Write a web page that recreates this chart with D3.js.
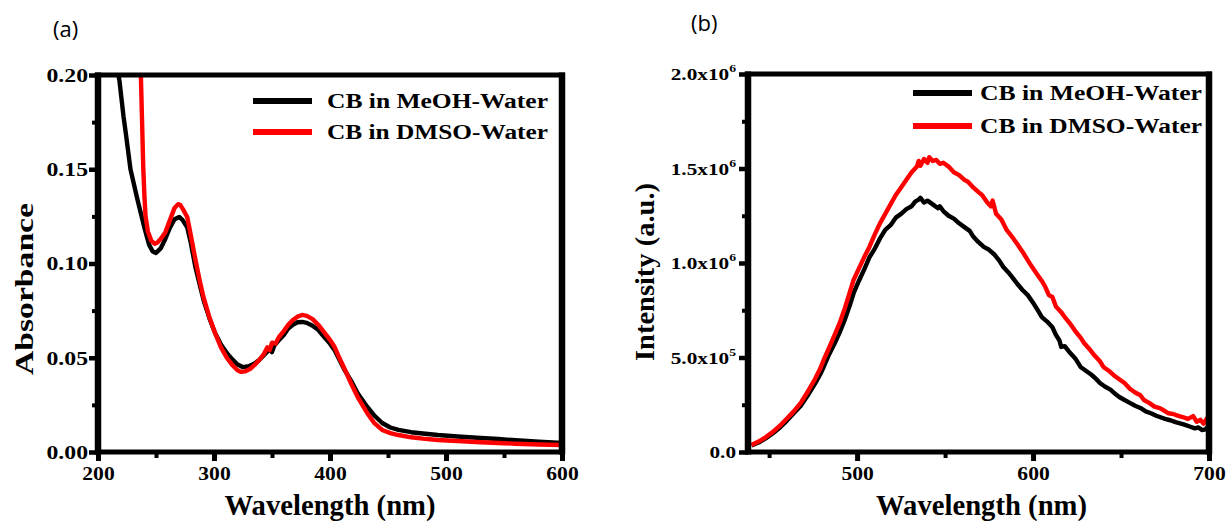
<!DOCTYPE html>
<html>
<head>
<meta charset="utf-8">
<script src="https://cdn.jsdelivr.net/npm/d3@7"></script>
<style>
  body { margin: 0; background: #fff; }
</style>
</head>
<body>
<div id="chart"></div>
<script>
// ---- panel (a): absorbance ----
let absWlMeOH = [212,216,218.5,222,224,228,234,240,244,247,250,254,258,262,266,270,273,277,280,284,288,291,296,301,306,311,316,320,325,330,335,339,344,348,350,352,356,360,364,368,372,376,380,385,390,395,400,404,408,413,418,424,432,438,445,452,459,470,480,493,510,530,545,560,580,600];
let absMeOH = [0.235,0.205,0.197,0.178,0.169,0.150,0.134,0.119,0.110,0.1065,0.1056,0.108,0.113,0.119,0.1235,0.1247,0.123,0.119,0.111,0.098,0.088,0.0806,0.071,0.063,0.057,0.0525,0.049,0.0465,0.045,0.0455,0.047,0.0488,0.052,0.0545,0.053,0.0565,0.0594,0.062,0.0655,0.0675,0.0688,0.069,0.0685,0.067,0.0647,0.061,0.0575,0.054,0.049,0.043,0.038,0.031,0.024,0.0195,0.0154,0.013,0.0117,0.0105,0.0098,0.009,0.0082,0.0074,0.0069,0.0062,0.0055,0.0048];

let absWlDMSO = [234,236,237,238,239,240,241,243,246,249,251,254,258,262,266,269,271,274,277,280,284,288,291,296,301,306,311,316,320,323,327,331,335,339,343,346,348,350,353,356,360,364,368,372,376,380,385,390,395,400,404,408,413,418,424,432,438,445,452,459,470,480,493,510,530,545,560,580,600];
let absDMSO = [0.24,0.205,0.199,0.175,0.151,0.136,0.125,0.117,0.112,0.1105,0.111,0.113,0.1165,0.123,0.1295,0.1315,0.131,0.128,0.1245,0.115,0.102,0.09,0.082,0.0715,0.063,0.0555,0.05,0.046,0.0435,0.0425,0.0428,0.044,0.0462,0.0488,0.052,0.0555,0.054,0.058,0.0575,0.061,0.064,0.0675,0.07,0.0718,0.0727,0.0722,0.0705,0.0674,0.0635,0.0595,0.0557,0.05,0.0435,0.0366,0.029,0.0207,0.0155,0.0117,0.01,0.009,0.0078,0.0071,0.0064,0.0058,0.0052,0.0048,0.0044,0.004,0.0037];

let absXTicks = [200,300,400,500,600];
let absXMinor = [250,350,450,550];
let absYTicks = [0,0.05,0.10,0.15,0.20];
let absYMinor = [0.025,0.075,0.125,0.175];

// ---- panel (b): emission ----
let emWlMeOH = [440,444,448,452,456,460,464,468,472,476,479,481,484,487,490,493,496,498,501,504,507,510,513,516,519,522,525,528,531,533,535,536,538,540,543,546,547,549,552,555,558,561,564,566,569,572,575,578,581,583,586,589,591,594,597,600,603,605,608,611,613,615,616,618,621,624,627,630,633,636,638,641,644,647,649,652,655,658,661,664,667,670,672,675,678,681,683,686,689,692,694,696,698,700];
let emMeOH = [0.035e6,0.05e6,0.072e6,0.098e6,0.128e6,0.165e6,0.205e6,0.245e6,0.3e6,0.36e6,0.41e6,0.45e6,0.515e6,0.57e6,0.63e6,0.7e6,0.78e6,0.84e6,0.905e6,0.965e6,1.03e6,1.075e6,1.13e6,1.175e6,1.2e6,1.24e6,1.26e6,1.285e6,1.3e6,1.325e6,1.335e6,1.345e6,1.32e6,1.33e6,1.31e6,1.29e6,1.3e6,1.275e6,1.25e6,1.235e6,1.21e6,1.19e6,1.17e6,1.14e6,1.11e6,1.085e6,1.07e6,1.045e6,1.01e6,0.98e6,0.95e6,0.915e6,0.89e6,0.857e6,0.83e6,0.79e6,0.745e6,0.714e6,0.69e6,0.66e6,0.62e6,0.59e6,0.556e6,0.56e6,0.525e6,0.495e6,0.45e6,0.43e6,0.41e6,0.385e6,0.365e6,0.345e6,0.33e6,0.305e6,0.291e6,0.275e6,0.26e6,0.245e6,0.233e6,0.215e6,0.205e6,0.192e6,0.185e6,0.175e6,0.168e6,0.158e6,0.153e6,0.145e6,0.135e6,0.125e6,0.13e6,0.116e6,0.12e6,0.14e6];

let emWlDMSO = [440,444,448,452,456,460,464,468,472,476,479,481,484,487,490,493,496,498,501,504,507,510,513,516,519,522,525,528,531,534,535,536,538,540,541,543,545,547,549,552,555,558,561,563,566,569,571,574,576,577,579,582,585,588,591,594,596,599,602,605,607,609,611,613,616,618,621,624,627,629,632,635,638,640,643,646,649,652,655,658,661,663,666,669,672,674,677,680,683,685,688,691,693,695,697,699,700];
let emDMSO = [0.037e6,0.055e6,0.078e6,0.105e6,0.138e6,0.176e6,0.215e6,0.26e6,0.32e6,0.385e6,0.44e6,0.487e6,0.55e6,0.615e6,0.68e6,0.76e6,0.85e6,0.91e6,0.97e6,1.03e6,1.085e6,1.15e6,1.21e6,1.26e6,1.31e6,1.36e6,1.4e6,1.44e6,1.48e6,1.51e6,1.54e6,1.515e6,1.55e6,1.53e6,1.56e6,1.54e6,1.545e6,1.525e6,1.53e6,1.51e6,1.48e6,1.465e6,1.44e6,1.43e6,1.4e6,1.375e6,1.36e6,1.32e6,1.3e6,1.33e6,1.26e6,1.23e6,1.175e6,1.14e6,1.1e6,1.06e6,1.03e6,0.985e6,0.945e6,0.905e6,0.873e6,0.83e6,0.82e6,0.77e6,0.74e6,0.714e6,0.68e6,0.64e6,0.605e6,0.577e6,0.545e6,0.51e6,0.48e6,0.45e6,0.43e6,0.405e6,0.385e6,0.365e6,0.335e6,0.315e6,0.3e6,0.275e6,0.26e6,0.24e6,0.232e6,0.222e6,0.205e6,0.2e6,0.19e6,0.185e6,0.175e6,0.19e6,0.16e6,0.17e6,0.15e6,0.18e6,0.175e6];

let emXTicks = [500,600,700];
let emXMinor = [450,550,650];
let emYTicks = [0,0.5e6,1.0e6,1.5e6,2.0e6];
let emYMinor = [0.25e6,0.75e6,1.25e6,1.75e6];

let seriesNames = ['CB in MeOH-Water','CB in DMSO-Water'];
let seriesColors = ['#000000','#ff0000'];

const SERIF = '"Liberation Serif","Times New Roman",Times,serif';

let svg = d3.select('#chart').append('svg')
            .attr('width',1231)
            .attr('height',523)
            .style('background','#fff');

// superscript format for the intensity axis
function sciLabel(text, v){
  text.text(null);
  if(v === 0){ text.append('tspan').text('0.0'); return; }
  let e = Math.floor(Math.log10(v));
  let m = (v / Math.pow(10,e)).toFixed(1);
  text.append('tspan').text(m + 'x10');
  text.append('tspan').attr('dy',-8).style('font-size','11px').text(e);
}

function drawPanel(p){
  let x = d3.scaleLinear().domain(p.xDomain).range(p.xRange);
  let y = d3.scaleLinear().domain(p.yDomain).range(p.yRange);
  let g = svg.append('g');
  let x0 = p.xRange[0], x1 = p.xRange[1], yb = p.yRange[0], yt = p.yRange[1];

  g.append('clipPath').attr('id',p.id + '-clip')
   .append('rect')
   .attr('x',x0).attr('y',yt)
   .attr('width',x1 - x0).attr('height',yb - yt);

  let line = d3.line().x(d => x(d[0])).y(d => y(d[1]));
  p.series.forEach((s,i) => {
    g.append('path')
     .datum(d3.zip(s.x, s.y))
     .attr('clip-path',`url(#${p.id}-clip)`)
     .attr('fill','none')
     .attr('stroke',seriesColors[i])
     .attr('stroke-width',4.4)
     .attr('stroke-linejoin','round')
     .attr('d',line);
  });

  //minor ticks
  g.append('g').attr('transform',`translate(${x0},0)`)
   .call(d3.axisLeft(y).tickValues(p.yMinor).tickSize(6).tickFormat(''))
   .call(a => a.select('.domain').remove())
   .selectAll('line').attr('stroke-width',4);
  g.append('g').attr('transform',`translate(0,${yb})`)
   .call(d3.axisBottom(x).tickValues(p.xMinor).tickSize(6).tickFormat(''))
   .call(a => a.select('.domain').remove())
   .selectAll('line').attr('stroke-width',4);

  //major ticks + labels
  let ya = g.append('g').attr('transform',`translate(${x0},0)`)
   .call(d3.axisLeft(y).tickValues(p.yTicks).tickSize(9).tickSizeOuter(0));
  ya.select('.domain').remove();
  ya.selectAll('line').attr('stroke-width',4.5);
  ya.selectAll('text')
    .attr('x',0).attr('dy','0.34em')
    .attr('transform',`translate(${p.yLabelOffset},0) scale(1.25,1)`)
    .style('font-size','19px');
  if(p.sci) ya.selectAll('text').each(function(d){ sciLabel(d3.select(this), d); })
                                .style('font-size','17px');

  let xa = g.append('g').attr('transform',`translate(0,${yb})`)
   .call(d3.axisBottom(x).tickValues(p.xTicks).tickSize(9).tickSizeOuter(0));
  xa.select('.domain').remove();
  xa.selectAll('line').attr('stroke-width',5);
  xa.selectAll('text')
    .attr('y',0).attr('dy',0)
    .attr('transform','translate(0,28) scale(1.2,1)')
    .style('font-size','18px');

  //frame
  g.append('line').attr('x1',x0 - 3).attr('x2',x1 + 3).attr('y1',yt).attr('y2',yt).attr('stroke','#000').attr('stroke-width',5);
  g.append('line').attr('x1',x0 - 3).attr('x2',x1 + 3).attr('y1',yb).attr('y2',yb).attr('stroke','#000').attr('stroke-width',5);
  g.append('line').attr('x1',x0).attr('x2',x0).attr('y1',yt - 2.5).attr('y2',yb + 2.5).attr('stroke','#000').attr('stroke-width',6.5);
  g.append('line').attr('x1',x1).attr('x2',x1).attr('y1',yt - 2.5).attr('y2',yb + 2.5).attr('stroke','#000').attr('stroke-width',6.5);

  //legend
  seriesNames.forEach((name,i) => {
    let ly = p.legend.y + i * p.legend.gap;
    g.append('line')
     .attr('x1',p.legend.x).attr('x2',p.legend.x + 59)
     .attr('y1',ly).attr('y2',ly)
     .attr('stroke',seriesColors[i]).attr('stroke-width',6);
    g.append('text')
     .attr('x',p.legend.tx).attr('y',ly + 7)
     .attr('textLength',p.legend.len).attr('lengthAdjust','spacingAndGlyphs')
     .style('font-size','20px')
     .text(name);
  });

  //axis titles
  g.append('text')
   .attr('x',(x0 + x1) / 2 + p.xTitleShift).attr('y',515)
   .attr('text-anchor','middle')
   .attr('textLength',211).attr('lengthAdjust','spacingAndGlyphs')
   .style('font-size','30px')
   .text('Wavelength (nm)');
  g.append('text')
   .attr('transform',`translate(${p.yTitle.x},${p.yTitle.y}) rotate(-90)`)
   .attr('text-anchor','middle')
   .attr('textLength',p.yTitle.len).attr('lengthAdjust','spacingAndGlyphs')
   .style('font-size',p.yTitle.size + 'px')
   .text(p.yTitle.text);

  g.selectAll('text')
   .attr('font-family',null)
   .style('font-family',SERIF)
   .style('font-weight','bold')
   .style('fill','#000');

  //panel letter
  g.append('text')
   .attr('x',p.tag.x).attr('y',p.tag.y)
   .style('font-family','"Open Sans","Liberation Sans",sans-serif')
   .style('font-size','22px')
   .text(p.tag.text);
}

drawPanel({
  id:'a',
  xDomain:[200,600], xRange:[98,562],
  yDomain:[0,0.2], yRange:[452,75],
  xTicks:absXTicks, xMinor:absXMinor,
  yTicks:absYTicks, yMinor:absYMinor,
  yLabelOffset:-10, sci:false,
  series:[{x:absWlMeOH, y:absMeOH},{x:absWlDMSO, y:absDMSO}],
  legend:{x:253, y:101, gap:31, tx:327, len:221},
  xTitleShift:0,
  yTitle:{x:33, y:289, len:172, size:25, text:'Absorbance'},
  tag:{x:53, y:37, text:'(a)'}
});

drawPanel({
  id:'b',
  xDomain:[438,700], xRange:[748,1209],
  yDomain:[0,2.0e6], yRange:[452,74],
  xTicks:emXTicks, xMinor:emXMinor,
  yTicks:emYTicks, yMinor:emYMinor,
  yLabelOffset:-12, sci:true,
  series:[{x:emWlMeOH, y:emMeOH},{x:emWlDMSO, y:emDMSO}],
  legend:{x:913, y:93, gap:33, tx:980, len:222},
  xTitleShift:3,
  yTitle:{x:654, y:272, len:178, size:27, text:'Intensity (a.u.)'},
  tag:{x:691, y:31, text:'(b)'}
});
</script>
</body>
</html>
